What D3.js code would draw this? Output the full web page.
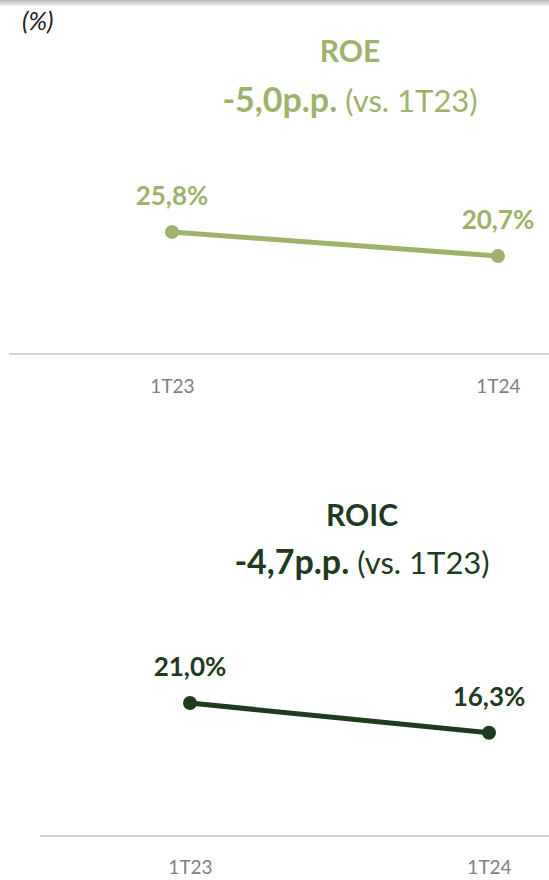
<!DOCTYPE html>
<html><head><meta charset="utf-8">
<script src="https://cdn.jsdelivr.net/npm/d3@7"></script>
<style>body{margin:0;background:#fff}svg{display:block}</style>
</head><body>
<svg id="c" width="549" height="880"></svg>
<script>
const categories = ["1T23", "1T24"];
const roeValues = [25.8, 20.7];
const roicValues = [21.0, 16.3];
const roeLabels = ["25,8%", "20,7%"];
const roicLabels = ["21,0%", "16,3%"];
const roeDelta = "-5,0p.p.";
const roicDelta = "-4,7p.p.";
const compareText = "(vs. 1T23)";

const font = "Lato, 'Open Sans', sans-serif";
const svg = d3.select("#c");

const defs = svg.append("defs");
const g = defs.append("linearGradient").attr("id","shade").attr("x1",0).attr("y1",0).attr("x2",0).attr("y2",1);
g.append("stop").attr("offset",0).attr("stop-color","#b8b8b8");
g.append("stop").attr("offset",1).attr("stop-color","#ffffff");
svg.append("rect").attr("x",0).attr("y",0).attr("width",549).attr("height",7).attr("fill","url(#shade)");

svg.append("text").attr("x",22).attr("y",30).attr("font-family",font).attr("font-style","italic")
  .attr("font-size",25).attr("fill","#222").text("(%)");

function panel(cfg){
  const x = d3.scalePoint().domain(categories).range(cfg.xr);
  const y = d3.scaleLinear().domain([0, cfg.ymax]).range([cfg.base, cfg.base - cfg.ymax*cfg.ppu]);
  svg.append("line").attr("x1",cfg.axisX[0]).attr("x2",cfg.axisX[1]).attr("y1",cfg.base).attr("y2",cfg.base)
    .attr("stroke","#c4c4c4").attr("stroke-width",1.5);
  const ax = svg.append("g").attr("transform",`translate(0,${cfg.base})`)
    .call(d3.axisBottom(x).tickSize(0).tickPadding(0));
  ax.select(".domain").remove();
  ax.selectAll("text").attr("font-family",font).attr("font-size",19).attr("fill","#808080")
    .attr("dy",0).attr("y",cfg.tickDy);
  svg.append("text").attr("x",cfg.tx).attr("y",cfg.ty).attr("text-anchor","middle")
    .attr("font-family",font).attr("font-weight","bold").attr("font-size",30).attr("fill",cfg.color).text(cfg.title);
  const t = svg.append("text").attr("x",cfg.tx).attr("y",cfg.ty+cfg.dGap).attr("text-anchor","middle")
    .attr("font-family",font).attr("fill",cfg.color);
  t.append("tspan").attr("font-weight","bold").attr("font-size",34).text(cfg.delta);
  t.append("tspan").attr("font-size",31).text(" " + compareText);
  const line = d3.line().x((d,i)=>x(categories[i])).y(d=>y(d));
  svg.append("path").datum(cfg.values).attr("d",line).attr("fill","none")
    .attr("stroke",cfg.color).attr("stroke-width",5).attr("stroke-linecap","round");
  svg.selectAll(null).data(cfg.values).enter().append("circle")
    .attr("cx",(d,i)=>x(categories[i])).attr("cy",d=>y(d)).attr("r",7).attr("fill",cfg.color);
  svg.selectAll(null).data(cfg.values).enter().append("text")
    .attr("x",(d,i)=>x(categories[i])).attr("y",d=>y(d)-27).attr("text-anchor","middle")
    .attr("font-family",font).attr("font-weight","bold").attr("font-size",26).attr("fill",cfg.color)
    .text((d,i)=>cfg.labels[i]);
}

panel({xr:[172,498], base:354, ppu:4.73, ymax:40, axisX:[9,549], tickDy:39,
  color:"#9fb26c", title:"ROE", delta:roeDelta, tx:350, ty:62, dGap:50, values:roeValues, labels:roeLabels});
panel({xr:[190,489], base:836, ppu:6.33, ymax:30, axisX:[40,549], tickDy:38,
  color:"#1f3a1f", title:"ROIC", delta:roicDelta, tx:362, ty:526, dGap:48, values:roicValues, labels:roicLabels});
</script>
</body></html>
